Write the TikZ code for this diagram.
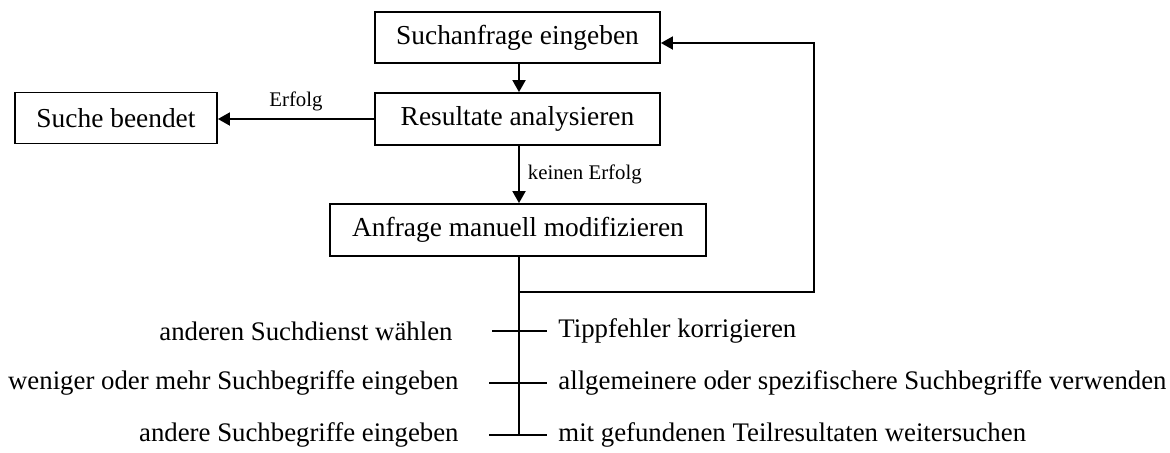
\documentclass[tikz,border=0pt]{standalone}
\usepackage{fontspec}
\setmainfont{Liberation Serif}
\usetikzlibrary{arrows.meta}
\begin{document}
\begin{tikzpicture}[x=0.5pt,y=-0.5pt,
  box/.style={draw,line width=0.9pt,inner sep=0pt,align=center,font=\fontsize{13.7}{16}\selectfont},
  conn/.style={line width=0.9pt},
  arr/.style={conn,-{Triangle[length=6pt,width=6.5pt]}},
  lbl/.style={font=\fontsize{10.4}{12}\selectfont,inner sep=0pt},
  item/.style={font=\fontsize{13.4}{16}\selectfont,inner sep=0pt}]
\useasboundingbox (0,0) rectangle (1170,452);
\node[box,minimum width=142.5pt,minimum height=25.5pt] (b1) at (517.5,37.5) {Suchanfrage eingeben};
\node[box,minimum width=142.5pt,minimum height=26pt] (b2) at (517.5,119) {Resultate analysieren};
\node[box,minimum width=188pt,minimum height=26pt] (b3) at (518,230) {Anfrage manuell modifizieren};
\node[box,minimum width=101pt,minimum height=25.5pt] (sb) at (116,118) {Suche beendet};
\draw[arr] (b1.south -| 519,0) -- (b2.north -| 519,0);
\draw[arr] (b2.west) -- (b2.west -| sb.east) node[lbl,midway,above=3.5pt] (lE) {Erfolg};
\draw[arr] (b2.south -| 519,0) -- (b3.north -| 519,0) node[lbl,midway,right=4pt] (lK) {keinen Erfolg};
\coordinate (j) at (519,292);
\coordinate (c1) at (814,292);
\coordinate (c2) at (814,43);
\coordinate (e1) at (660,43);
\coordinate (bot) at (519,435);
\draw[conn] (b3.south -| 519,0) -- (bot);
\draw[arr] (j) -- (c1) -- (c2) -- (b1.east |- e1);
\foreach \y/\i/\x in {331/1/492,383/2/489,435/3/489}{
  \coordinate (tl\i) at (\x,\y);
  \coordinate (tr\i) at (547,\y);
  \draw[conn] (tl\i) -- (tr\i);
}
\node[item,anchor=east] (l1) at (453,331) {anderen Suchdienst wählen};
\node[item,anchor=east] (l2) at (459,383) {weniger oder mehr Suchbegriffe eingeben};
\node[item,anchor=east] (l3) at (459,435) {andere Suchbegriffe eingeben};
\node[item,anchor=west] (r1) at (558,331) {Tippfehler korrigieren};
\node[item,anchor=west] (r2) at (558,383) {allgemeinere oder spezifischere Suchbegriffe verwenden};
\node[item,anchor=west] (r3) at (558,435) {mit gefundenen Teilresultaten weitersuchen};
\end{tikzpicture}
\end{document}
